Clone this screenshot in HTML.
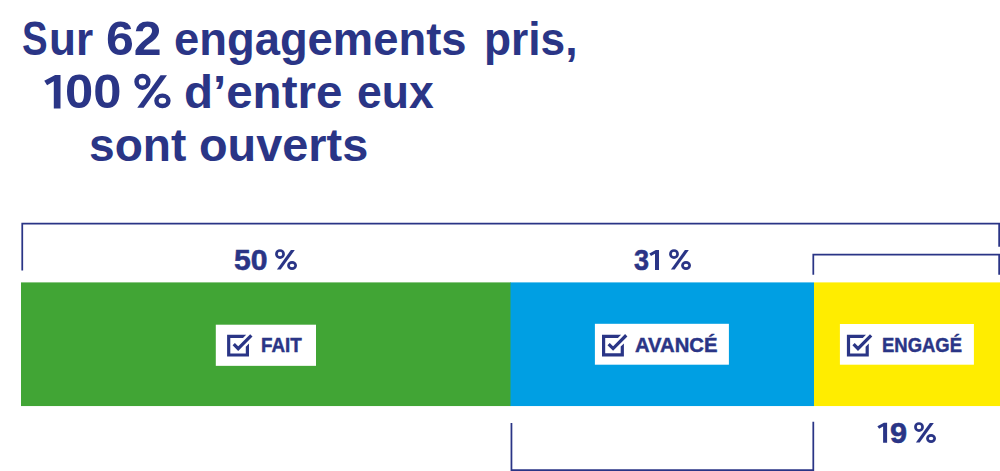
<!DOCTYPE html>
<html>
<head>
<meta charset="utf-8">
<style>
html,body{margin:0;padding:0;}
body{width:1000px;height:471px;position:relative;overflow:hidden;background:#fff;font-family:"Liberation Sans",sans-serif;font-weight:bold;color:#2a3586;}
.w{position:absolute;white-space:nowrap;}
</style>
</head>
<body>
<svg width="1000" height="471" viewBox="0 0 1000 471" style="position:absolute;left:0;top:0">
<g fill="none" stroke="#2a3586" stroke-width="1.75" stroke-linejoin="miter">
<path d="M22.25 270.6V223.72H999.15V246.7"/>
<path d="M813.3 274.7V254.55H999.15V274.7"/>
<path d="M511.45 422.9V470.15H813.3V421.8"/>
</g>
<rect x="21" y="282.4" width="490.00" height="123.65" fill="#41a535"/>
<rect x="510.5" y="282.4" width="303.50" height="123.65" fill="#009fe3"/>
<rect x="814" y="282.4" width="186.00" height="123.65" fill="#ffed00"/>
<rect x="215.8" y="324.7" width="100.20" height="41.15" fill="#fff"/>
<rect x="594.9" y="323.8" width="134.00" height="40.90" fill="#fff"/>
<rect x="839.9" y="324.0" width="134.00" height="40.70" fill="#fff"/>
<g transform="translate(225.00,332.00)"><path d="M21.2 2.8H2.1V24.6H24.0V11.5L20.8 14.7V21.4H5.3V6.0H18.0Z" fill="#2a3586"/><path d="M8.75 12.15L13.2 16.65L26.35 3.35" fill="none" stroke="#2a3586" stroke-width="3.25" stroke-miterlimit="4"/></g>
<g transform="translate(599.90,331.90)"><path d="M21.2 2.8H2.1V24.6H24.0V11.5L20.8 14.7V21.4H5.3V6.0H18.0Z" fill="#2a3586"/><path d="M8.75 12.15L13.2 16.65L26.35 3.35" fill="none" stroke="#2a3586" stroke-width="3.25" stroke-miterlimit="4"/></g>
<g transform="translate(844.80,332.00)"><path d="M21.2 2.8H2.1V24.6H24.0V11.5L20.8 14.7V21.4H5.3V6.0H18.0Z" fill="#2a3586"/><path d="M8.75 12.15L13.2 16.65L26.35 3.35" fill="none" stroke="#2a3586" stroke-width="3.25" stroke-miterlimit="4"/></g>
<g transform="translate(275.1,249.2) scale(1.0)"><circle cx="4.9" cy="4.85" r="3.55" fill="none" stroke="#2a3586" stroke-width="2.7"/><ellipse cx="16.95" cy="16.3" rx="3.6" ry="3.15" fill="none" stroke="#2a3586" stroke-width="2.7"/><path d="M15.8 0.8H19.7L5.6 20.4H1.8Z" fill="#2a3586"/></g>
<path transform="translate(53.8,75) scale(1.675)" d="M-5.7 3.5L0.8 0H4V20H0V3.8L-4 6.1Z" fill="#2a3586"/>
<path transform="translate(655.0,249.9) scale(1.0)" d="M-5.7 3.5L0.8 0H4V20H0V3.8L-4 6.1Z" fill="#2a3586"/>
<path transform="translate(883.1,422.7) scale(1.0)" d="M-5.7 3.5L0.8 0H4V20H0V3.8L-4 6.1Z" fill="#2a3586"/>
<g transform="translate(669.1,249.2) scale(1.0)"><circle cx="4.9" cy="4.85" r="3.55" fill="none" stroke="#2a3586" stroke-width="2.7"/><ellipse cx="16.95" cy="16.3" rx="3.6" ry="3.15" fill="none" stroke="#2a3586" stroke-width="2.7"/><path d="M15.8 0.8H19.7L5.6 20.4H1.8Z" fill="#2a3586"/></g>
<g transform="translate(914.1,422.2) scale(1.0)"><circle cx="4.9" cy="4.85" r="3.55" fill="none" stroke="#2a3586" stroke-width="2.7"/><ellipse cx="16.95" cy="16.3" rx="3.6" ry="3.15" fill="none" stroke="#2a3586" stroke-width="2.7"/><path d="M15.8 0.8H19.7L5.6 20.4H1.8Z" fill="#2a3586"/></g>
<g transform="translate(134.3,73.8) scale(1.66)"><circle cx="4.9" cy="4.85" r="3.55" fill="none" stroke="#2a3586" stroke-width="2.7"/><ellipse cx="16.95" cy="16.3" rx="3.6" ry="3.15" fill="none" stroke="#2a3586" stroke-width="2.7"/><path d="M15.8 0.8H19.7L5.6 20.4H1.8Z" fill="#2a3586"/></g>
</svg>
<div class="w" style="left:22.16px;top:16.20px;font-size:46px;line-height:46px;transform-origin:0 39px;transform:scale(0.8357,1.035)">S</div>
<div class="w" style="left:49.38px;top:16.00px;font-size:46px;line-height:46px;transform-origin:0 39px;transform:scale(0.9591,1.0)">ur</div>
<div class="w" style="left:106.01px;top:16.00px;font-size:46px;line-height:46px;transform-origin:0 39px;transform:scale(1.0878,1.05)">62</div>
<div class="w" style="left:173.51px;top:16.00px;font-size:46px;line-height:46px;transform-origin:0 39px;transform:scale(0.9864,1.0)">engagements</div>
<div class="w" style="left:483.58px;top:16.00px;font-size:46px;line-height:46px;transform-origin:0 39px;transform:scale(0.9624,1.0)">pris,</div>
<div class="w" style="left:65.15px;top:69.30px;font-size:46px;line-height:46px;transform-origin:0 39px;transform:scale(1.1031,1.05)">00</div>
<div class="w" style="left:184.07px;top:69.30px;font-size:46px;line-height:46px;transform-origin:0 39px;transform:scale(1.0325,1.0)">d’entre</div>
<div class="w" style="left:356.53px;top:69.30px;font-size:46px;line-height:46px;transform-origin:0 39px;transform:scale(0.9679,1.0)">eux</div>
<div class="w" style="left:88.80px;top:122.00px;font-size:46px;line-height:46px;transform-origin:0 39px;transform:scale(1.0021,1.0)">sont</div>
<div class="w" style="left:198.98px;top:122.00px;font-size:46px;line-height:46px;transform-origin:0 39px;transform:scale(1.0183,1.0)">ouverts</div>
<div class="w" style="left:233.92px;top:246.80px;font-size:28px;line-height:28px;-webkit-text-stroke:0.5px #2a3586;transform-origin:0 23px;transform:scale(1.0767,1.05)">50</div>
<div class="w" style="left:634.10px;top:246.80px;font-size:28px;line-height:28px;-webkit-text-stroke:0.5px #2a3586;transform-origin:0 23px;transform:scale(0.9667,1.05)">3</div>
<div class="w" style="left:889.80px;top:419.80px;font-size:28px;line-height:28px;-webkit-text-stroke:0.5px #2a3586;transform-origin:0 23px;transform:scale(1.1000,1.05)">9</div>
<div class="w" style="left:261.30px;top:336.80px;font-size:18px;line-height:18px;-webkit-text-stroke:0.4px #2a3586;transform-origin:0 15px;transform:scale(1.0462,1.08)">FAIT</div>
<div class="w" style="left:634.88px;top:336.90px;font-size:18px;line-height:18px;-webkit-text-stroke:0.4px #2a3586;transform-origin:0 15px;transform:scale(1.1250,1.08)">AVANCÉ</div>
<div class="w" style="left:882.00px;top:336.90px;font-size:18px;line-height:18px;-webkit-text-stroke:0.4px #2a3586;transform-origin:0 15px;transform:scale(1.0256,1.08)">ENGAGÉ</div>
</body>
</html>
